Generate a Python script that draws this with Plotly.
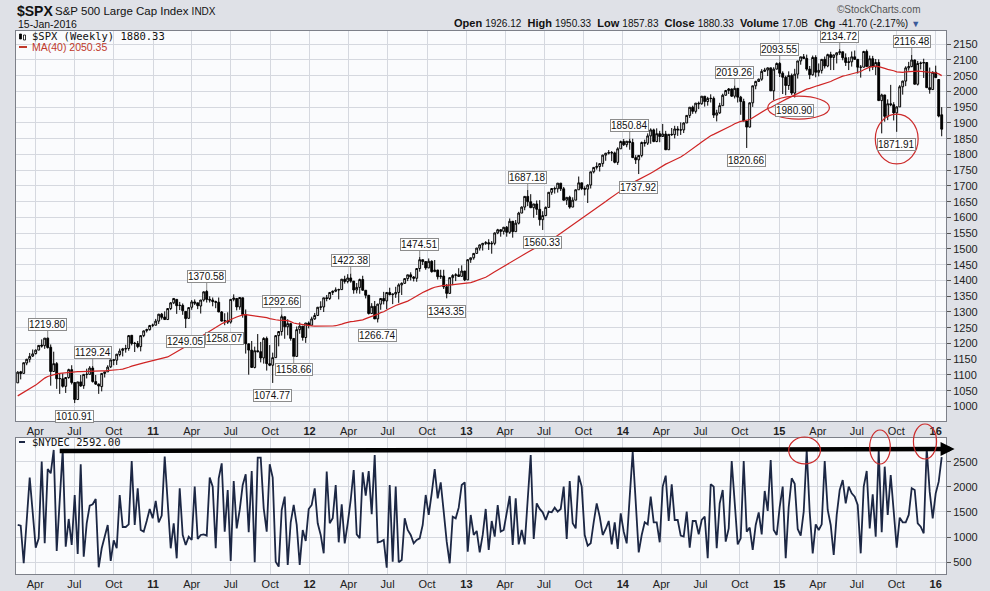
import pandas as pd
import plotly.graph_objects as go

# ---------------- data (weekly, Friday dates) ----------------
start_date = "2010-02-19"

opens = [1075,1110,1105,1138,1150,1160,1168,1179,1195,1193,1217,1188,1111,1136,1088,1088,1064,1092,1117,1076,
         1022,1078,1066,1102,1102,1122,1079,1071,1063,1105,1110,1126,1148,1147,1165,1178,1184,1184,1226,1201,
         1200,1190,1225,1241,1244,1258,1258,1271,1293,1284,1276,1311,1329,1340,1321,1321,1302,1280,1315,1332,
         1329,1319,1338,1365,1340,1338,1333,1331,1300,1272,1272,1268,1340,1343,1316,1345,1292,1199,1179,1124,
         1177,1174,1154,1216,1136,1131,1155,1225,1238,1285,1253,1263,1216,1159,1244,1255,1219,1265,1258,1278,
         1289,1315,1316,1345,1343,1362,1366,1370,1371,1404,1397,1408,1398,1370,1378,1403,1369,1353,1295,1318,
         1278,1325,1343,1335,1362,1355,1357,1362,1386,1391,1406,1418,1411,1407,1438,1466,1460,1440,1461,1428,
         1433,1412,1414,1380,1359,1409,1416,1418,1413,1430,1402,1466,1472,1486,1503,1513,1518,1520,1516,1518,
         1551,1561,1556,1569,1553,1588,1555,1582,1614,1633,1667,1650,1631,1643,1626,1593,1606,1632,1680,1692,
         1691,1709,1691,1655,1664,1633,1655,1688,1710,1692,1690,1703,1745,1759,1762,1771,1798,1804,1806,1805,
         1775,1818,1841,1831,1842,1838,1790,1783,1797,1838,1836,1859,1878,1841,1866,1857,1865,1815,1864,1863,
         1881,1878,1878,1900,1924,1950,1937,1963,1961,1985,1968,1978,1978,1925,1932,1955,1988,2003,2008,1985,
         2010,1982,1968,1906,1887,1964,2018,2032,2039,2064,2068,2075,2002,2071,2089,2058,2045,2019,2051,1995,
         2055,2097,2110,2105,2071,2053,2108,2061,2067,2102,2081,2117,2108,2116,2123,2126,2107,2092,2094,2110,
         2102,2077,2077,2127,2079,2104,2078,2092,1971,1989,1921,1961,1958,1932,1951,2015,2033,2075,2079,2100,
         2023,2089,2090,2092,2012,2006,2061,2038,1926]
highs = [1112,1113,1139,1151,1170,1181,1181,1195,1213,1217,1219.80,1197,1174,1141,1104,1105,1092,1120,1131,1076,
         1078,1100,1103,1120,1128,1129.24,1100,1073,1105,1110,1131,1148,1151,1167,1184,1186,1196,1227,1227,1205,
         1208,1225,1241,1247,1259,1263,1278,1294,1297,1302,1311,1331,1344,1340,1332,1327,1302,1314,1338,1340,
         1329,1338,1365,1370.58,1350,1346,1336,1346,1303,1296,1299,1341,1356,1343,1347,1345,1308,1199,1208,1190,
         1230,1205,1220,1222,1195,1171,1224,1239,1292.66,1285,1277,1266,1216,1254,1267,1255,1265,1270,1285,1297,
         1316,1334,1345,1354,1363,1368,1378,1374,1405,1415,1420,1422.38,1398,1392,1406,1415,1369,1354,1328,1335,
         1326,1344,1364,1362,1377,1357,1380,1391,1394,1406,1418,1426,1414,1438,1474.51,1466,1460,1470,1464,1465,
         1434,1434,1434,1389,1409,1420,1423,1439,1448,1430,1467,1472,1485,1503,1514,1518,1525,1531,1525,1552,
         1564,1563,1570,1573,1597,1589,1592,1618,1635,1667,1687.18,1674,1643,1654,1655,1620,1635,1680,1693,1698,
         1709,1709,1697,1664,1669,1664,1689,1730,1710,1699,1705,1745,1759,1775,1771,1799,1805,1814,1811,1809,
         1823,1844,1849,1843,1850.84,1850,1798,1798,1841,1847,1867,1883,1882,1883,1875,1897,1875,1865,1884,1891,
         1890,1902,1902,1924,1950,1955,1963,1968,1985,1985,1983,1991,1984,1942,1964,1993,2005,2011,2009,2019.26,
         2008,1986,1977,1906,1965,2018,2034,2041,2071,2075,2076,2075,2077,2092,2093.55,2064,2050,2064,2057,2072,
         2097,2110,2119,2117,2081,2114,2115,2089,2103,2111,2120,2126,2117,2123,2134.72,2126,2121,2109,2127,2130,
         2102,2084,2129,2133,2114,2113,2103,2102,1993,1989,1975,2021,1966,1953,2020,2034,2080,2094,2116.48,2101,
         2097,2095,2104,2093,2076,2064,2082,2038,1950.33]
lows = [1075,1086,1105,1131,1140,1157,1165,1179,1187,1183,1184,1066,1111,1056,1040,1060,1043,1088,1070,1010.91,
        1022,1063,1056,1089,1102,1076,1069,1040,1048,1092,1110,1122,1131,1132,1159,1159,1171,1177,1194,1173,
        1185,1175,1220,1235,1241,1252,1258,1262,1276,1275,1276,1306,1325,1294,1306,1291,1249.05,1278,1307,1322,
        1309,1295,1333,1330,1330,1318,1312,1300,1270,1258.07,1262,1263,1334,1305,1307,1282,1168,1101,1123,1121,
        1172,1140,1136,1114,1128,1074.77,1155,1191,1225,1215,1226,1209,1158.66,1159,1231,1209,1202,1248,1258,1275,
        1287,1306,1300,1334,1338,1354,1363,1340,1370,1390,1391,1393,1358,1359,1358,1368,1343,1292,1295,1278,
        1266.74,1307,1324,1309,1353,1325,1345,1329,1354,1389,1398,1400,1397,1396,1428,1449,1434,1439,1425,1428,
        1403,1405,1373,1343.35,1359,1385,1398,1413,1413,1398,1402,1456,1466,1485,1495,1495,1513,1497,1485,1512,
        1547,1539,1546,1539,1548,1536,1555,1578,1614,1623,1636,1630,1599,1608,1574,1560.33,1604,1632,1672,1676,
        1679,1684,1654,1640,1628,1633,1655,1688,1687,1670,1646,1692,1740,1752,1746,1761,1780,1800,1779,1772,
        1767,1818,1827,1823,1815,1790,1770,1737.92,1791,1825,1830,1834,1839,1839,1839,1857,1814,1815,1859,1851,
        1859,1862,1868,1900,1916,1929,1930,1944,1958,1952,1955,1965,1916,1905,1929,1955,1989,1992,1983,1978,
        1965,1926,1906,1820.66,1886,1951,2007,2030,2034,2062,2049,2002,1973,2070,2046,1992,1988,2005,1989,1980.90,
        2041,2085,2103,2066,2039,2050,2045,2048,2057,2073,2077,2068,2068,2089,2116,2099,2081,2068,2079,2101,
        2057,2044,2077,2079,2064,2068,2052,1971,1867,1904,1909,1953,1908,1871.91,1951,1990,2017,2066,2077,2023,
        2019,2070,2043,2012,1993,2006,2044,1918,1857.83]
closes = [1109,1105,1139,1150,1159,1167,1179,1194,1192,1217,1187,1111,1136,1088,1089,1064,1092,1117,1076,1022,
          1078,1065,1102,1102,1122,1079,1071,1065,1105,1110,1125,1148,1147,1166,1176,1183,1183,1225,1200,1200,
          1190,1225,1240,1244,1257,1258,1271,1293,1283,1276,1311,1329,1343,1320,1321,1304,1279,1314,1332,1328,
          1320,1338,1364,1340,1338,1333,1331,1300,1271,1272,1268,1340,1344,1316,1346,1292,1199,1179,1124,1177,
          1174,1154,1216,1136,1131,1155,1225,1238,1285,1253,1263,1216,1159,1244,1255,1219,1265,1258,1278,1289,
          1315,1316,1345,1343,1362,1366,1370,1371,1404,1397,1408,1398,1370,1378,1403,1369,1353,1295,1318,1278,
          1325,1343,1335,1362,1355,1357,1362,1386,1391,1406,1418,1411,1407,1438,1466,1460,1440,1461,1428,1433,
          1412,1414,1380,1359,1409,1416,1418,1413,1430,1402,1466,1472,1486,1503,1513,1518,1520,1516,1518,1551,
          1561,1556,1569,1553,1588,1555,1582,1614,1633,1667,1650,1631,1643,1626,1593,1606,1632,1680,1692,1691,
          1709,1691,1655,1664,1633,1655,1688,1710,1692,1690,1703,1745,1759,1762,1771,1798,1804,1806,1805,1775,
          1818,1841,1831,1842,1838,1790,1783,1797,1838,1836,1859,1878,1841,1866,1857,1865,1815,1864,1863,1881,
          1878,1878,1900,1924,1950,1937,1963,1961,1985,1968,1978,1978,1925,1932,1955,1988,2003,2008,1985,2010,
          1982,1968,1906,1887,1964,2018,2032,2039,2064,2068,2075,2002,2071,2089,2058,2045,2019,2051,1995,2055,
          2097,2110,2105,2071,2053,2108,2061,2067,2102,2081,2117,2108,2116,2123,2126,2107,2092,2094,2110,2102,
          2077,2077,2127,2079,2104,2078,2092,1971,1989,1921,1961,1958,1932,1951,2015,2033,2075,2079,2100,2023,
          2089,2090,2092,2012,2006,2061,2044,1922,1880.33]
# 39 weekly closes before the first bar (May 2009 - Feb 2010), needed for the 40-week average
pre_closes = [887,919,940,946,921,918,896,879,940,979,987,1010,1005,1026,1029,1016,1042,1068,1044,1025,
              1071,1087,1080,1036,1069,1093,1091,1091,1106,1106,1102,1127,1115,1145,1136,1092,1074,1066,1075]
nydec = [1242,1228,480,1330,2183,1490,791,977,2501,877,2355,2269,2733,725,1730,2733,811,1361,844,1838,
         665,2448,612,1275,1626,1653,1759,400,778,1043,1242,526,937,778,1838,1202,1202,1255,2514,1242,
         1971,1142,1109,1321,1560,1374,1719,1295,1427,2600,1700,778,1275,579,1971,1043,844,1010,943,2004,
         963,1043,1056,1030,2183,2004,778,2170,2468,1109,1938,526,2116,1175,1540,2037,2249,1096,2315,500,
         2580,2580,1573,1109,2448,2183,513,413,1540,1805,447,1295,1639,1242,447,1142,924,1560,1639,1971,
         1275,1043,678,2302,1275,1374,2037,897,1653,877,1275,1739,2335,1056,977,2289,1825,2315,1454,2633,
         897,910,943,393,2037,513,2004,500,546,1374,1142,1043,877,943,977,1242,1838,1441,1871,2355,
         1772,2090,1507,910,480,1407,1374,1586,2037,2090,712,1441,1043,1122,698,1043,1560,745,1321,1010,
         1639,1109,1142,1450,1818,844,1772,857,1142,857,1750,2633,963,1672,1560,1493,1341,1507,1493,1586,
         1507,1560,2004,963,2116,1275,1175,2223,2004,1043,831,877,1300,1672,1407,1043,1162,1321,857,1295,
         765,1474,1109,877,1800,2700,1700,698,1043,1295,1255,1805,1295,1295,897,2004,2223,1321,2050,1341,
         1341,1030,1010,1507,791,1321,1321,1056,1341,1407,579,2050,2004,778,1672,1938,910,1175,2514,1772,
         857,977,2514,1109,1189,745,1242,1493,1056,1918,1520,2534,1142,1043,1600,2004,579,1600,2170,2060,
         1162,1030,1507,2733,1500,678,1255,1142,1255,2514,1540,1242,645,1441,1938,2136,1672,2004,1871,1805,
         1639,678,2004,2315,1175,1851,1010,2733,1096,2401,1441,2236,1507,791,1388,1295,1295,1441,1971,1938,
         1275,1208,1076,2766,1900,1374,1871,2103,2592]

# labelled swing points: bar index and whether the high or the low is labelled
label_idx = [10, 19, 25, 56, 63, 69, 85, 88, 92, 111, 120, 134, 143, 170, 175, 204, 207, 239, 243, 254, 259, 274, 293, 298]
label_kind = ["H", "L", "H", "L", "H", "L", "L", "H", "L", "H", "L", "H", "L", "H", "L", "H", "L", "H", "L", "H", "L", "H", "L", "H"]

tick_months = ["Jan", "Apr", "Jul", "Oct"]
years = [2010, 2011, 2012, 2013, 2014, 2015, 2016]

# ---------------- derived ----------------
dates = pd.date_range(start_date, periods=len(closes), freq="W-FRI")
ma40 = pd.Series(pre_closes + closes).rolling(40).mean().iloc[len(pre_closes):].values

tickvals, ticktext = [], []
for y in years:
    for mi, m in enumerate(tick_months):
        d = pd.Timestamp(year=y, month=1 + 3 * mi, day=1)
        if pd.Timestamp("2010-03-01") <= d <= pd.Timestamp("2016-01-20"):
            tickvals.append(d)
            ticktext.append("<b>%02d</b>" % (y % 100) if m == "Jan" else m)

# ---------------- geometry ----------------
W, H = 990, 591
ML, MR, MT, MB = 16, 44, 31, 17
x0, x1 = pd.Timestamp("2010-02-15"), pd.Timestamp("2016-01-25")
top_dom = [0.2818, 1.0]
bot_dom = [0.0, 0.2510]
y_rng = [954, 2192]
y2_rng = [267, 2977]
PW, PH = W - ML - MR, H - MT - MB


def date_paper(d):
    return (pd.Timestamp(d) - x0) / (x1 - x0)


def px_paper(px):
    return (px - ML) / PW


def py_paper(py):
    return (H - MB - py) / PH


def v2_paper(v):
    return bot_dom[0] + (v - y2_rng[0]) / (y2_rng[1] - y2_rng[0]) * (bot_dom[1] - bot_dom[0])


FONT = "Liberation Sans, Arial, sans-serif"
MONO = "DejaVu Sans Mono, monospace"
GRID = "#d5d8df"

fig = go.Figure()
fig.add_trace(go.Candlestick(
    x=dates, open=opens, high=highs, low=lows, close=closes,
    increasing=dict(line=dict(color="#000000", width=1), fillcolor="#ffffff"),
    decreasing=dict(line=dict(color="#000000", width=1), fillcolor="#000000"),
    whiskerwidth=0, xaxis="x", yaxis="y", showlegend=False, hoverinfo="skip"))
fig.add_trace(go.Scatter(x=dates, y=ma40, mode="lines", line=dict(color="#cf2424", width=1.2),
                         xaxis="x", yaxis="y", showlegend=False, hoverinfo="skip"))
fig.add_trace(go.Scatter(x=dates, y=nydec, mode="lines", line=dict(color="#1c2744", width=1.8),
                         xaxis="x2", yaxis="y2", showlegend=False, hoverinfo="skip"))

axis_common = dict(type="date", range=[x0, x1], tickmode="array", tickvals=tickvals, ticktext=ticktext,
                   showgrid=True, gridcolor=GRID, gridwidth=1, showline=True, linecolor="#7d8089",
                   mirror=True, ticks="", tickfont=dict(family=FONT, size=11, color="#222222"),
                   zeroline=False, rangeslider=dict(visible=False), fixedrange=True, automargin=False)

fig.update_layout(
    width=W, height=H, margin=dict(l=ML, r=MR, t=MT, b=MB, autoexpand=False),
    paper_bgcolor="#dfe1e7", plot_bgcolor="#fafbfd", boxgap=0.12,
    xaxis=dict(axis_common, domain=[0, 1], anchor="y"),
    xaxis2=dict(axis_common, domain=[0, 1], anchor="y2", matches="x"),
    yaxis=dict(domain=top_dom, range=y_rng, side="right", dtick=50, tick0=1000, showgrid=True,
               gridcolor=GRID, showline=True, linecolor="#7d8089", mirror=True, ticks="outside",
               ticklen=4, tickcolor="#555", tickfont=dict(family=FONT, size=11, color="#222222"),
               zeroline=False, fixedrange=True, automargin=False),
    yaxis2=dict(domain=bot_dom, range=y2_rng, side="right", tickvals=[500, 1000, 1500, 2000, 2500],
                showgrid=True, gridcolor=GRID, showline=True, linecolor="#7d8089", mirror=True,
                ticks="outside", ticklen=4, tickcolor="#555",
                tickfont=dict(family=FONT, size=11, color="#222222"), zeroline=False, fixedrange=True,
                automargin=False),
    showlegend=False,
)

ann = []
# swing point labels
for i, k in zip(label_idx, label_kind):
    v = highs[i] if k == "H" else lows[i]
    ann.append(dict(x=dates[i], y=v, xref="x", yref="y", text="%.2f" % v, showarrow=True,
                    arrowhead=0, arrowwidth=1, arrowcolor="#8c8c8c", ax=0, ay=-13 if k == "H" else 13,
                    font=dict(family=FONT, size=10, color="#111"), bgcolor="#ffffff",
                    bordercolor="#8c8c8c", borderwidth=1, borderpad=0, standoff=0))

# header texts
ann.append(dict(x=px_paper(15), y=py_paper(11), xref="paper", yref="paper", xanchor="left", yanchor="middle",
                showarrow=False, text="<b>$SPX</b>", font=dict(family=FONT, size=14, color="#111")))
ann.append(dict(x=px_paper(53), y=py_paper(11), xref="paper", yref="paper", xanchor="left", yanchor="middle",
                showarrow=False, text="S&P 500 Large Cap Index <span style='font-size:10px'>INDX</span>",
                font=dict(family=FONT, size=11.5, color="#111")))
ann.append(dict(x=px_paper(16), y=py_paper(24), xref="paper", yref="paper", xanchor="left", yanchor="middle",
                showarrow=False, text="15-Jan-2016", font=dict(family=FONT, size=10.5, color="#111")))
ann.append(dict(x=px_paper(923), y=py_paper(10), xref="paper", yref="paper", xanchor="right", yanchor="middle",
                showarrow=False, text="©StockCharts.com", font=dict(family=FONT, size=10, color="#555")))
hdr = ("<b>Open</b> <span style='font-size:10px'>1926.12</span>  <b>High</b> <span style='font-size:10px'>1950.33</span>"
       "  <b>Low</b> <span style='font-size:10px'>1857.83</span>  <b>Close</b> <span style='font-size:10px'>1880.33</span>"
       "  <b>Volume</b> <span style='font-size:10px'>17.0B</span>  <b>Chg</b> <span style='font-size:10px'>-41.70 (-2.17%)</span>"
       " <span style='color:#3a5a9a;font-size:9px'>▼</span>")
ann.append(dict(x=px_paper(922), y=py_paper(23), xref="paper", yref="paper", xanchor="right", yanchor="middle",
                showarrow=False, text=hdr, font=dict(family=FONT, size=11, color="#111")))

# in-panel legends
ann.append(dict(x=px_paper(30), y=py_paper(36), xref="paper", yref="paper", xanchor="left", yanchor="middle",
                showarrow=False, text="$SPX (Weekly) 1880.33", font=dict(family=MONO, size=10.5, color="#111")))
ann.append(dict(x=px_paper(30), y=py_paper(47), xref="paper", yref="paper", xanchor="left", yanchor="middle",
                showarrow=False, text="MA(40) 2050.35", font=dict(family=FONT, size=10.5, color="#c0392b")))
ann.append(dict(x=px_paper(30), y=py_paper(442), xref="paper", yref="paper", xanchor="left", yanchor="middle",
                showarrow=False, text="$NYDEC 2592.00", font=dict(family=MONO, size=10.5, color="#111")))

# arrow head for the drawn resistance line
line_v0, line_v1 = 2715, 2752
line_end = pd.Timestamp("2016-02-14")
ann.append(dict(x=date_paper(line_end), y=v2_paper(line_v1), xref="paper", yref="paper", showarrow=True,
                ax=-14, ay=0, arrowhead=2, arrowsize=0.7, arrowwidth=4, arrowcolor="#000", text="", standoff=0))
fig.update_layout(annotations=ann)

shapes = []
# resistance line on the NYDEC panel
shapes.append(dict(type="line", xref="paper", yref="paper", x0=date_paper(dates[14]), y0=v2_paper(line_v0),
                   x1=date_paper(line_end) - 0.005, y1=v2_paper(line_v1), line=dict(color="#000", width=4.5)))

# red ellipses, top panel (data coordinates around labelled lows)
red = dict(color="#cc2b2b", width=1.2)
for i, dx, hw, cv, hh in [(259, 9, 72, 1948.6, 36.5), (293, 0, 50, 1849, 79)]:
    c = dates[i] + pd.Timedelta(days=dx)
    shapes.append(dict(type="circle", xref="x", yref="y", x0=c - pd.Timedelta(days=hw), x1=c + pd.Timedelta(days=hw),
                       y0=cv - hh, y1=cv + hh, line=red))
# red ellipses, NYDEC panel (around the spikes)
for i, dx, hw, cv, hh in [(263, -5, 37, 2723, 268), (287, 3, 24, 2792, 338), (303, -4, 27, 2902, 348)]:
    c = dates[i] + pd.Timedelta(days=dx)
    shapes.append(dict(type="circle", xref="paper", yref="paper",
                       x0=date_paper(c - pd.Timedelta(days=hw)), x1=date_paper(c + pd.Timedelta(days=hw)),
                       y0=v2_paper(cv - hh), y1=v2_paper(cv + hh), line=red))

# legend icons
shapes.append(dict(type="line", xref="paper", yref="paper", x0=px_paper(19), x1=px_paper(27),
                   y0=py_paper(47), y1=py_paper(47), line=dict(color="#c0392b", width=2)))
shapes.append(dict(type="line", xref="paper", yref="paper", x0=px_paper(19), x1=px_paper(25),
                   y0=py_paper(442), y1=py_paper(442), line=dict(color="#1c2744", width=2)))
shapes.append(dict(type="rect", xref="paper", yref="paper", x0=px_paper(19.5), x1=px_paper(21.5),
                   y0=py_paper(39), y1=py_paper(34), fillcolor="#000", line=dict(color="#000", width=0.8)))
shapes.append(dict(type="rect", xref="paper", yref="paper", x0=px_paper(23.5), x1=px_paper(25.5),
                   y0=py_paper(40), y1=py_paper(35), fillcolor="#fff", line=dict(color="#000", width=0.8)))
fig.update_layout(shapes=shapes)

fig.write_html("out.html", config={"displayModeBar": False, "responsive": False},
               post_script="document.body.style.margin='0';document.body.style.padding='0';"
                           "document.body.style.overflow='hidden';")
